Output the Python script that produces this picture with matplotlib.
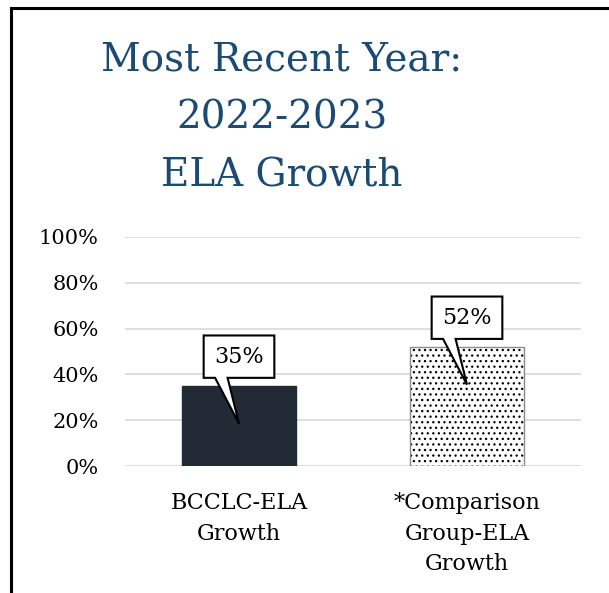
import matplotlib
matplotlib.use("Agg")
import matplotlib.pyplot as plt
from matplotlib.patches import Polygon
from matplotlib.lines import Line2D

categories = ["BCCLC-ELA\nGrowth", "*Comparison\nGroup-ELA\nGrowth"]
values = [35, 52]
labels = ["35%", "52%"]
yticks = [0, 20, 40, 60, 80, 100]
ytick_labels = ["0%", "20%", "40%", "60%", "80%", "100%"]
title_lines = "Most Recent Year:\n2022-2023\nELA Growth"

FONT = "DejaVu Serif"
plt.rcParams["font.family"] = FONT
plt.rcParams["hatch.linewidth"] = 0.9

fig = plt.figure(figsize=(6.09, 5.93), dpi=100)
ax = fig.add_axes([125/609, 1-466/593, 456/609, 229/593])

x = list(range(len(categories)))
# bar 1: dark solid
ax.bar(x[0], values[0], width=0.5, color="#222a35", edgecolor="#222a35", zorder=3)
# bar 2: dotted
ax.bar(x[1], values[1], width=0.5, color="white", edgecolor="black", hatch="...", linewidth=0, zorder=3)
ax.bar(x[1], values[1], width=0.5, color="none", edgecolor="#8c8c8c", linewidth=1.0, zorder=4)

ax.set_xlim(-0.5, 1.5)
ax.set_ylim(0, 100)
ax.set_yticks(yticks)
ax.set_yticklabels(ytick_labels, fontsize=15)
ax.set_xticks(x)
ax.set_xticklabels(categories, fontsize=16, linespacing=1.5)
ax.tick_params(axis="both", length=0)
ax.tick_params(axis="y", pad=19)
ax.tick_params(axis="x", pad=19)
for s in ax.spines.values():
    s.set_visible(False)
ax.yaxis.grid(True, color="#d9d9d9", linewidth=1.2, zorder=0)
ax.set_axisbelow(True)

# callouts
for xi, v, lab in zip(x, values, labels):
    L, R = xi - 0.155, xi + 0.155
    bot, top = v + 3.5, v + 22
    wl, wr = xi - 0.105, xi - 0.05
    tip = v - 16.5
    poly = Polygon([(L, bot), (wl, bot), (xi, tip), (wr, bot), (R, bot), (R, top), (L, top)],
                   closed=True, facecolor="white", edgecolor="black", linewidth=1.5, zorder=6)
    ax.add_patch(poly)
    ax.text(xi, (bot + top) / 2, lab, ha="center", va="center", fontsize=16, zorder=7)

# title
fig.text(282/609, 1-118/593, title_lines, ha="center", va="center", fontsize=28,
         color="#1b4a72", linespacing=1.72)

# frame lines
fig.add_artist(Line2D([11/609, 1.0], [1-8/593, 1-8/593], color="black", linewidth=2.2, transform=fig.transFigure))
fig.add_artist(Line2D([11/609, 11/609], [0, 1-8/593], color="black", linewidth=2.2, transform=fig.transFigure))

fig.savefig("out.png", dpi=100, facecolor="white")
